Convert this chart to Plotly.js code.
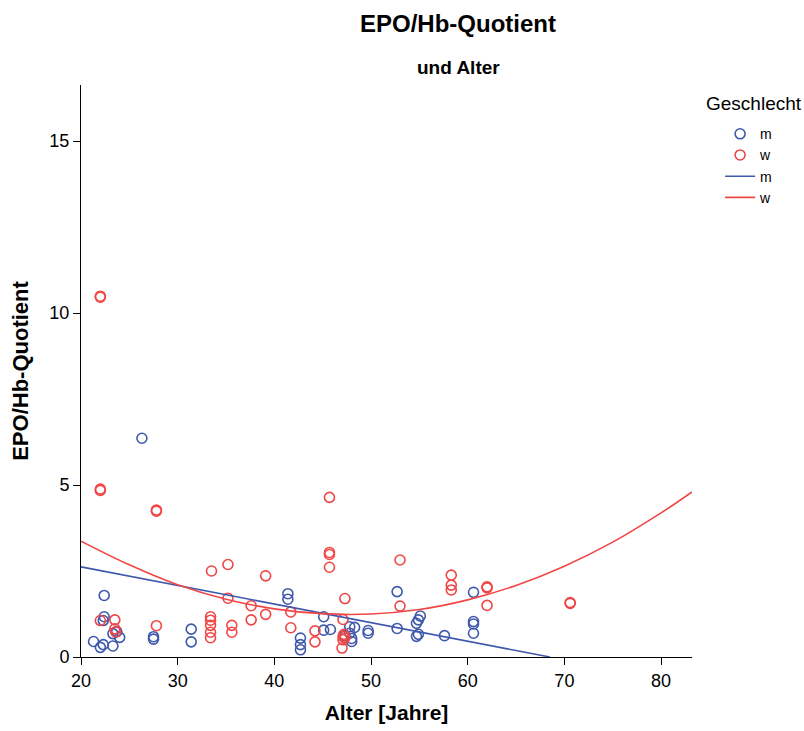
<!DOCTYPE html>
<html>
<head>
<meta charset="utf-8">
<script src="https://cdn.plot.ly/plotly-3.0.1.min.js"></script>
<style>html,body{margin:0;padding:0;background:#fff;}#chart{width:804px;height:731px;}</style>
</head>
<body>
<div id="chart"></div>
<script>
// Male (m) data: Alter [Jahre], EPO/Hb-Quotient
const maleAge = [22.4,22.4,22.3,21.3,22.0,22.3,23.3,23.7,24.0,23.3,27.5,27.5,31.4,31.4,26.3,
  41.4,41.4,42.7,42.7,42.7,45.1,45.1,45.8,47.8,48.3,47.8,48.0,48.0,47.3,49.7,49.7,
  52.7,52.7,55.1,54.9,54.7,54.9,54.7,57.6,60.6,60.6,60.6,60.6];
const maleVal = [1.79,1.17,1.06,0.45,0.28,0.36,0.32,0.74,0.57,0.68,0.59,0.52,0.81,0.44,6.36,
  1.84,1.68,0.55,0.36,0.21,1.17,0.78,0.80,0.88,0.86,0.69,0.54,0.45,0.62,0.77,0.69,
  1.90,0.83,1.19,1.08,0.98,0.66,0.60,0.62,1.88,1.03,0.96,0.69];

// Female (w) data
const femaleAge = [22.0,22.0,22.0,22.0,27.8,27.8,45.7,45.7,45.7,45.7,33.5,35.2,39.1,53.0,
  58.3,58.3,58.3,62.0,62.0,62.0,70.6,70.6,47.3,53.0,35.2,37.6,39.1,41.7,41.7,37.6,35.6,35.6,
  33.4,33.4,33.4,33.4,33.4,27.8,22.0,23.5,23.5,23.6,44.2,44.2,47.1,47.1,47.1,47.0,47.3,47.2];
const femaleVal = [10.49,10.46,4.88,4.84,4.27,4.24,4.64,3.04,2.98,2.61,2.50,2.69,2.36,2.82,
  2.38,2.09,1.95,2.04,2.01,1.50,1.58,1.56,1.70,1.48,1.71,1.49,1.24,1.31,0.85,1.08,0.92,0.72,
  1.17,1.07,0.92,0.72,0.56,0.91,1.06,1.08,0.82,0.73,0.76,0.44,1.09,0.60,0.50,0.26,0.56,0.66];

// Fit lines
const fitMaleAge = [20, 68.5];
const fitMaleVal = [2.62, 0.0];
const fitFemaleAge = [20,25,30,35,40,45,50,55,60,65,70,75,80,83.2];
const fitFemaleVal = [3.37,2.68,2.10,1.68,1.40,1.26,1.25,1.38,1.66,2.08,2.64,3.34,4.19,4.80];

const xTicks = [20,30,40,50,60,70,80];
const yTicks = [0,5,10,15];

const BLUE = '#3e58ac';
const RED = '#f04646';
const FONT = 'Liberation Sans, Arial, sans-serif';

const traces = [
  {x: maleAge, y: maleVal, name: 'm', type: 'scatter', mode: 'markers',
   marker: {symbol: 'circle-open', size: 10, color: BLUE, line: {width: 1.6, color: BLUE}}},
  {x: femaleAge, y: femaleVal, name: 'w', type: 'scatter', mode: 'markers',
   marker: {symbol: 'circle-open', size: 10, color: RED, line: {width: 1.6, color: RED}}},
  {x: fitMaleAge, y: fitMaleVal, name: 'm', type: 'scatter', mode: 'lines',
   line: {color: BLUE, width: 1.6}},
  {x: fitFemaleAge, y: fitFemaleVal, name: 'w', type: 'scatter', mode: 'lines',
   line: {color: RED, width: 1.6, shape: 'spline'}}
];

const layout = {
  width: 804, height: 731,
  margin: {l: 81, r: 112, t: 85, b: 74},
  paper_bgcolor: '#ffffff', plot_bgcolor: '#ffffff',
  font: {family: FONT, color: '#000000', size: 16},
  title: {text: '<b>EPO/Hb-Quotient</b>', xref: 'container', x: 458/804, xanchor: 'center',
          yref: 'container', y: 1 - 24/731, yanchor: 'middle',
          font: {family: FONT, size: 24, color: '#000'}},
  xaxis: {range: [20, 83.2], tickvals: xTicks, ticktext: xTicks.map(String),
          showgrid: false, zeroline: false, showline: true, linecolor: '#000', linewidth: 1,
          ticks: 'outside', ticklen: 7, tickcolor: '#000', tickfont: {size: 18, color: '#000'},
          title: {text: '<b>Alter [Jahre]</b>', font: {size: 21, color: '#000'}, standoff: 15}},
  yaxis: {range: [0, 16.63], tickvals: yTicks, ticktext: yTicks.map(String),
          showgrid: false, zeroline: false, showline: true, linecolor: '#000', linewidth: 1,
          ticks: 'outside', ticklen: 7, tickcolor: '#000', tickfont: {size: 18, color: '#000'},
          title: {text: '<b>EPO/Hb-Quotient</b>', font: {size: 22, color: '#000'}, standoff: 14}},
  showlegend: true,
  legend: {x: 1.046, xanchor: 'left', y: 0.942, yanchor: 'top', bgcolor: 'rgba(0,0,0,0)',
           font: {size: 14, color: '#000'}, tracegroupgap: 0, itemwidth: 30},
  annotations: [
    {text: '<b>und Alter</b>', xref: 'paper', yref: 'paper', x: (458-81)/611, y: 1 + (85-68)/572,
     xanchor: 'center', yanchor: 'middle', showarrow: false, font: {size: 19, color: '#000'}},
    {text: 'Geschlecht', xref: 'paper', yref: 'paper', x: (704-81)/611, y: 1 - (103-85)/572,
     xanchor: 'left', yanchor: 'middle', showarrow: false, font: {size: 19, color: '#000'}}
  ]
};

Plotly.newPlot('chart', traces, layout, {displayModeBar: false, staticPlot: true});
</script>
</body>
</html>
